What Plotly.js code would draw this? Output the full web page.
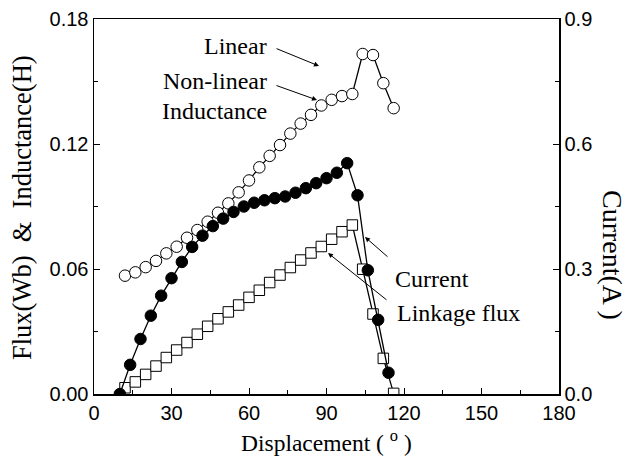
<!DOCTYPE html>
<html>
<head>
<meta charset="utf-8">
<script src="https://cdn.plot.ly/plotly-3.0.1.min.js"></script>
<style>html,body{margin:0;padding:0;background:#fff;}#chart{width:637px;height:459px;}</style>
</head>
<body>
<div id="chart"></div>
<script>
// Displacement (deg) for each series
const xCurrent = [10,14,18,22,26,30,34,38,42,46,50,54,58,62,66,70,74,78,82,86,90,94,98,102,106,110,114];
const current = [0,0.070,0.132,0.188,0.236,0.278,0.317,0.353,0.380,0.403,0.421,0.437,0.450,0.459,0.465,0.470,0.474,0.483,0.494,0.506,0.518,0.531,0.554,0.477,0.297,0.178,0.051];

const xFlux = [12,16,20,24,28,32,36,40,44,48,52,56,60,64,68,72,76,80,84,88,92,96,100,104,108,112,116];
const linkageFlux = [0.0030,0.0058,0.0094,0.0134,0.0175,0.0211,0.0247,0.0287,0.0325,0.0361,0.0394,0.0427,0.0464,0.0498,0.0535,0.0571,0.0607,0.0643,0.0677,0.0708,0.0743,0.0779,0.0811,0.0599,0.0384,0.0171,0.0003];

const xInd = [12,16,20,24,28,32,36,40,44,48,52,56,60,64,68,72,76,80,84,88,92,96,100,104,108,112,116];
const inductance = [0.0568,0.0584,0.0609,0.0639,0.0675,0.0707,0.0750,0.0787,0.0827,0.0870,0.0915,0.0968,0.1025,0.1088,0.1143,0.1195,0.1250,0.1298,0.1340,0.1385,0.1412,0.1430,0.1440,0.1632,0.1627,0.1492,0.1372];

const xTicks = [0,30,60,90,120,150,180];
const yTicks = [0,0.06,0.12,0.18];
const y2Ticks = [0,0.3,0.6,0.9];

const serif = "Liberation Serif, Times New Roman, serif";
const sans = "Liberation Sans, Arial, sans-serif";

const traces = [
  {x: xInd, y: inductance, type:'scatter', mode:'lines+markers', name:'Inductance',
   line:{color:'#000', width:1.3},
   marker:{symbol:'circle', size:11.5, color:'#fff', line:{color:'#000', width:1}}},
  {x: xCurrent, y: current, type:'scatter', mode:'lines+markers', name:'Current', yaxis:'y2',
   line:{color:'#000', width:1.3},
   marker:{symbol:'circle', size:11.5, color:'#000', line:{color:'#000', width:1}}},
  {x: xFlux, y: linkageFlux, type:'scatter', mode:'lines+markers', name:'Linkage flux',
   line:{color:'#000', width:1.3},
   marker:{symbol:'square', size:10.5, color:'#fff', line:{color:'#000', width:1}}}
];

const axBase = {
  showgrid:false, zeroline:false, showline:true, linecolor:'#000', linewidth:1.5,
  ticks:'inside', ticklen:6, tickwidth:1, tickcolor:'#000',
  tickfont:{family:sans, size:20, color:'#000'}
};

// plot area in pixels: left 94, right 559, top 19, bottom 394
const L = 94, R = 559, T = 19, B = 394;
const px = v => (v - L) / (R - L);
const py = v => (B - v) / (B - T);

const layout = {
  width:637, height:459,
  margin:{l:L, r:637-R, t:T, b:459-B},
  paper_bgcolor:'#fff', plot_bgcolor:'#fff',
  showlegend:false,
  xaxis: Object.assign({}, axBase, {
    range:[0,180], tickvals:xTicks, ticktext:xTicks.map(String), mirror:true,
    minor:{ticks:'inside', dtick:15, tick0:0, ticklen:4, tickcolor:'#000'}
  }),
  yaxis: Object.assign({}, axBase, {
    range:[0,0.18], tickvals:yTicks, ticktext:yTicks.map(v=>v.toFixed(2)),
    minor:{ticks:'inside', dtick:0.03, tick0:0, ticklen:4, tickcolor:'#000'}
  }),
  yaxis2: Object.assign({}, axBase, {
    range:[0,0.9], overlaying:'y', side:'right', tickvals:y2Ticks, ticktext:y2Ticks.map(v=>v.toFixed(1)),
    minor:{ticks:'inside', dtick:0.15, tick0:0, ticklen:4, tickcolor:'#000'}
  }),
  annotations: [
    {text:'Displacement ( <sup>o</sup> )', xref:'paper', yref:'paper', x:px(326), y:py(441), yanchor:'middle', xanchor:'center', showarrow:false, font:{family:serif, size:23.5, color:'#000'}},
    {text:'Flux(Wb)  &amp;  Inductance(H)', xref:'paper', yref:'paper', x:px(22), y:py(208), xanchor:'center', yanchor:'middle', textangle:-90, showarrow:false, font:{family:serif, size:26.5, color:'#000'}},
    {text:'Current(A )', xref:'paper', yref:'paper', x:px(613), y:py(255), xanchor:'center', yanchor:'middle', textangle:90, showarrow:false, font:{family:serif, size:28, color:'#000'}},
    {text:'Linear', xref:'paper', yref:'paper', x:px(269), y:py(46), xanchor:'right', yanchor:'middle', showarrow:false, font:{family:serif, size:24, color:'#000'}},
    {text:'Non-linear', xref:'paper', yref:'paper', x:px(269), y:py(81), xanchor:'right', yanchor:'middle', showarrow:false, font:{family:serif, size:24, color:'#000'}},
    {text:'Inductance', xref:'paper', yref:'paper', x:px(269), y:py(111), xanchor:'right', yanchor:'middle', showarrow:false, font:{family:serif, size:24, color:'#000'}},
    {text:'Current', xref:'paper', yref:'paper', x:px(393), y:py(279), xanchor:'left', yanchor:'middle', showarrow:false, font:{family:serif, size:24, color:'#000'}},
    {text:'Linkage flux', xref:'paper', yref:'paper', x:px(395), y:py(313), xanchor:'left', yanchor:'middle', showarrow:false, font:{family:serif, size:24, color:'#000'}}
  ]
};
// arrows: [tailX, tailY, headX, headY] in pixels
const arrows = [[275,48,319,66],[275,85,317,100],[389,258,365,237],[388,301,328,253]];
arrows.forEach(t => {
  layout.annotations.push({xref:'paper', yref:'paper', x:px(t[2]), y:py(t[3]), ax:t[0]-t[2], ay:t[1]-t[3],
    text:'', showarrow:true, arrowhead:2, arrowsize:1, arrowwidth:1, arrowcolor:'#000'});
});
Plotly.newPlot('chart', traces, layout, {staticPlot:true, displayModeBar:false});
</script>
</body>
</html>
